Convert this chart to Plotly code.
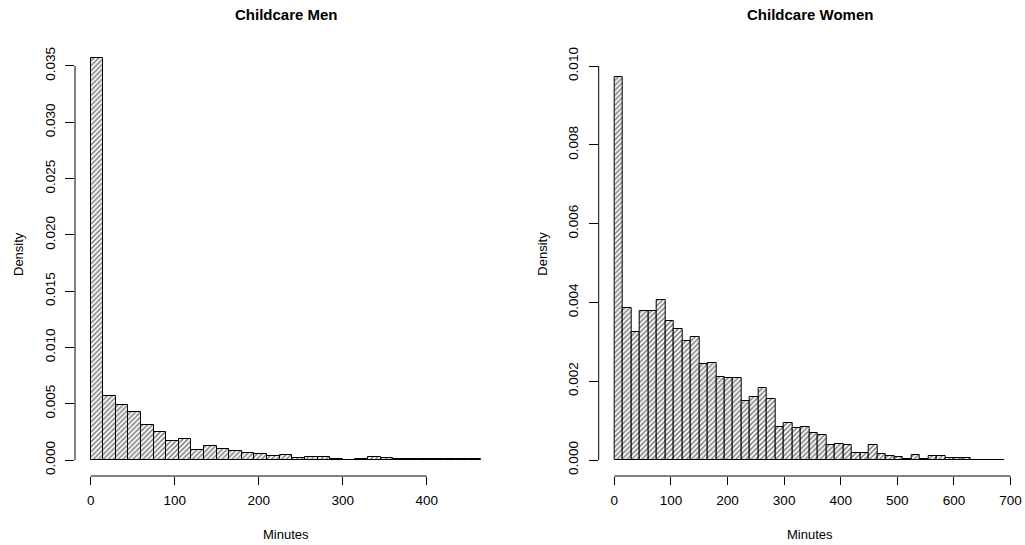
import plotly.graph_objects as go

# ---- data (density per 15-minute bin) ----
bin_width = 15
men_density = [0.0357, 0.00567, 0.00488, 0.00427, 0.00308, 0.00245, 0.00166, 0.00185,
               0.00086, 0.00121, 0.00095, 0.00079, 0.00061, 0.00052, 0.00034, 0.00041,
               0.00015, 0.00025, 0.00025, 0.00012, 0.00004, 0.00008, 0.00025, 0.00017,
               0.00005, 0.00011, 0.00011, 0.00007, 0.00006, 0.00006, 0.00006]
women_density = [0.00973, 0.00385, 0.00325, 0.00379, 0.00379, 0.00405, 0.00354, 0.00333,
                 0.00302, 0.00311, 0.00243, 0.00245, 0.00211, 0.00208, 0.00208, 0.00151,
                 0.00160, 0.00184, 0.00154, 0.00085, 0.00093, 0.00080, 0.00085, 0.00068,
                 0.00064, 0.00037, 0.00040, 0.00037, 0.00019, 0.00017, 0.00037, 0.00014,
                 0.00009, 0.00007, 0.00003, 0.00012, 0.00003, 0.00009, 0.00009, 0.00004,
                 0.00004, 0.00004, 0.00001, 0.00001, 0.00001, 0.00001]
men_xticks = [0, 100, 200, 300, 400]
women_xticks = [0, 100, 200, 300, 400, 500, 600, 700]
men_yticks = [0.000, 0.005, 0.010, 0.015, 0.020, 0.025, 0.030, 0.035]
women_yticks = [0.000, 0.002, 0.004, 0.006, 0.008, 0.010]
titles = ["Childcare Men", "Childcare Women"]

W, H = 1025, 545
FONT = "Liberation Sans, Arial, Helvetica, sans-serif"

def px_x(p):
    return p / W

def px_y(p):
    return 1 - p / H

fig = go.Figure()

panels = [
    dict(vals=men_density, xt=men_xticks, yt=men_yticks, xr=[-18.6, 483.6],
         yr=[-0.001421, 0.03713], dom=[75, 497], title=titles[0]),
    dict(vals=women_density, xt=women_xticks, yt=women_yticks, xr=[-27.6, 717.6],
         yr=[-0.000406, 0.010609], dom=[598.7, 1020.5], title=titles[1]),
]

ydom = [px_y(476), px_y(42)]
layout = dict(width=W, height=H, margin=dict(l=0, r=0, t=0, b=0),
              plot_bgcolor="white", paper_bgcolor="white", showlegend=False,
              font=dict(family=FONT, size=13, color="black"), bargap=0)
annotations = []
shapes = []

for i, p in enumerate(panels):
    n = i + 1
    xa = "x" if n == 1 else f"x{n}"
    ya = "y" if n == 1 else f"y{n}"
    centers = [bin_width * (k + 0.5) for k in range(len(p["vals"]))]
    fig.add_trace(go.Bar(
        x=centers, y=p["vals"], width=bin_width, xaxis=xa, yaxis=ya,
        hoverinfo="skip",
        marker=dict(color="white", line=dict(color="black", width=1),
                    pattern=dict(shape="/", fgcolor="black", bgcolor="white",
                                 size=3.5, solidity=0.45)),
    ))
    axkey = "xaxis" if n == 1 else f"xaxis{n}"
    aykey = "yaxis" if n == 1 else f"yaxis{n}"
    layout[axkey] = dict(domain=[px_x(p["dom"][0]), px_x(p["dom"][1])], range=p["xr"],
                         anchor=ya, showgrid=False, zeroline=False, showline=False,
                         ticks="outside", ticklen=8, tickcolor="black", tickwidth=1,
                         tickvals=p["xt"], ticktext=[str(v) for v in p["xt"]],
                         tickfont=dict(size=13.5), ticklabelstandoff=4, fixedrange=True)
    layout[aykey] = dict(domain=ydom, range=p["yr"], anchor=xa, showgrid=False,
                         zeroline=False, showline=False, ticks="outside", ticklen=9,
                         tickcolor="black", tickwidth=1, tickvals=p["yt"],
                         ticktext=[f"{v:.3f}" for v in p["yt"]], tickangle=-90,
                         tickfont=dict(size=13.5), ticklabelstandoff=5, fixedrange=True)
    # R-style axis lines spanning first to last tick
    shapes.append(dict(type="line", xref=xa, yref=f"{ya} domain",
                       x0=p["xt"][0], x1=p["xt"][-1], y0=0, y1=0,
                       line=dict(color="black", width=1)))
    shapes.append(dict(type="line", xref=f"{xa} domain", yref=ya,
                       x0=0, x1=0, y0=p["yt"][0], y1=p["yt"][-1],
                       line=dict(color="black", width=1)))
    cx = (p["dom"][0] + p["dom"][1]) / 2
    annotations.append(dict(text=f"<b>{p['title']}</b>", x=px_x(cx), y=px_y(14),
                            xref="paper", yref="paper", showarrow=False,
                            font=dict(size=15), xanchor="center", yanchor="middle"))
    annotations.append(dict(text="Minutes", x=px_x(cx), y=px_y(534), xref="paper",
                            yref="paper", showarrow=False, font=dict(size=13),
                            xanchor="center", yanchor="middle"))
    annotations.append(dict(text="Density", x=px_x(p["dom"][0] - 57), y=px_y(254),
                            xref="paper", yref="paper", showarrow=False, textangle=-90,
                            font=dict(size=13), xanchor="center", yanchor="middle"))

layout["annotations"] = annotations
layout["shapes"] = shapes
fig.update_layout(**layout)
fig.write_html("out.html", config={"displayModeBar": False},
               post_script="document.body.style.margin='0';")
